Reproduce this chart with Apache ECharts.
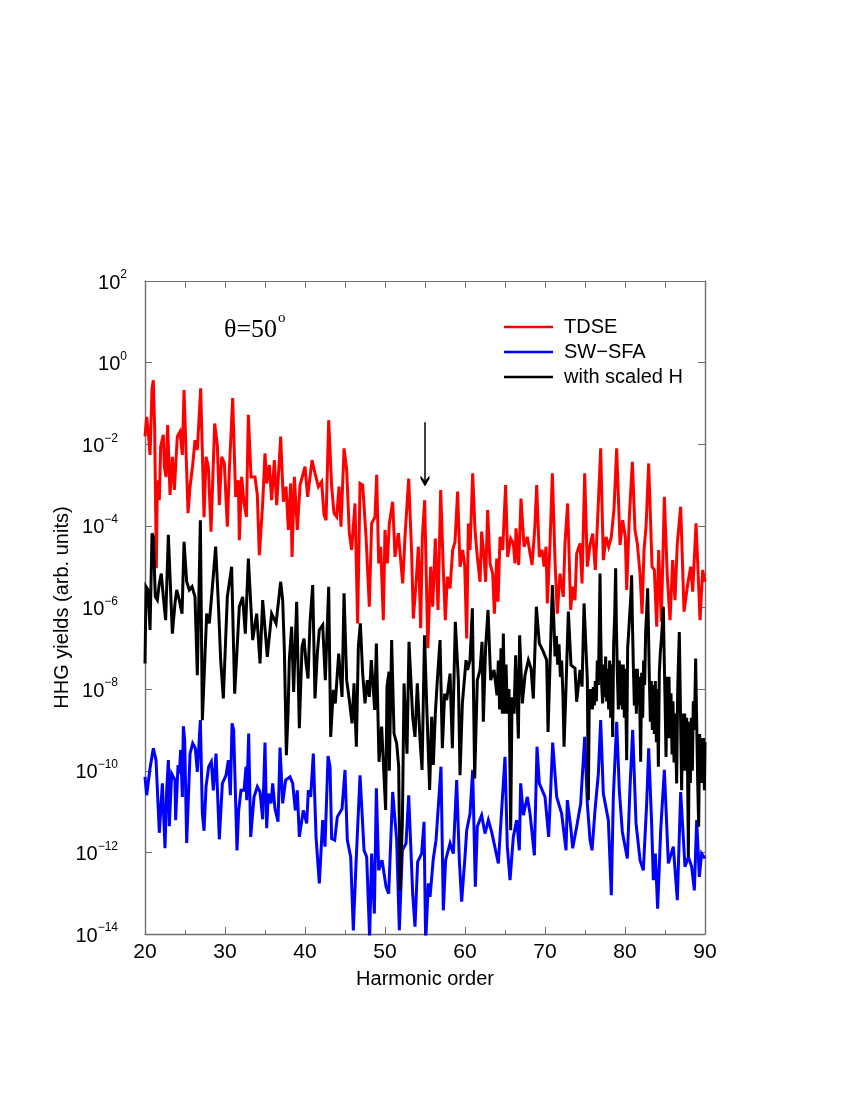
<!DOCTYPE html>
<html>
<head>
<meta charset="utf-8">
<title>HHG yields</title>
<script src="https://cdn.jsdelivr.net/npm/echarts@6/dist/echarts.min.js"></script>
<style>
  html, body { margin: 0; padding: 0; background: #fff; }
  #chart { width: 850px; height: 1100px; }
</style>
</head>
<body>
<div id="chart"></div>
<script>
// harmonic order and log10(yield)
var tdseX = [20,20.21,20.42,20.63,20.88,21.04,21.21,21.42,21.54,21.79,21.96,22.29,22.42,22.63,22.83,23.13,23.42,23.67,24.04,24.38,24.67,24.88,25.08,25.38,25.63,25.96,26.25,26.54,26.96,27.38,27.63,27.92,28.25,28.71,29.04,29.29,29.58,29.92,30.29,30.54,30.96,31.33,31.67,31.79,32.08,32.38,32.67,32.92,33.25,33.75,34.04,34.29,34.71,35,35.21,35.54,35.83,36.17,36.46,36.96,37.29,37.63,37.92,38.21,38.38,38.67,39.04,39.38,40,40.33,40.88,41.25,41.67,42.08,42.38,42.63,42.96,43.33,43.63,43.96,44.25,44.5,44.88,45.21,45.54,45.83,46.25,46.58,46.88,47.21,47.63,48.04,48.33,48.75,48.96,49.21,49.46,49.79,50,50.29,50.54,50.96,51.25,51.67,52.21,52.5,52.96,53.33,53.54,53.88,54.17,54.46,54.67,54.96,55.35,55.71,55.96,56.29,56.63,56.96,57.29,57.54,57.79,58.13,58.46,58.75,59.08,59.38,59.71,59.96,60.21,60.42,60.63,60.96,61.25,61.54,61.88,62.08,62.38,62.58,62.83,63.13,63.46,63.67,63.96,64.13,64.38,64.71,65.08,65.33,65.71,66.04,66.25,66.38,66.71,67,67.38,67.79,68.13,68.38,68.71,68.96,69.29,69.63,69.88,70.13,70.29,70.63,70.92,71.25,71.54,71.88,72.29,72.5,72.83,73.21,73.46,73.75,73.96,74.38,74.63,74.96,75.29,75.63,75.96,76.29,76.63,76.96,77.29,77.63,77.96,78.29,78.63,78.96,79.38,79.71,80.04,80.21,80.54,80.92,81.25,81.54,81.88,82.13,82.38,82.63,82.96,83.38,83.67,83.96,84.21,84.54,84.92,85.29,85.63,85.96,86.25,86.54,86.96,87.38,87.79,88.21,88.46,88.88,89.38,89.71,90];
var tdseLog = [-1.81,-1.33,-1.73,-2.26,-0.63,-0.43,-1.65,-5.04,-2.88,-3.37,-2.06,-1.77,-2.55,-2.8,-1.53,-3.24,-2.31,-3.12,-1.81,-1.69,-2.26,-0.67,-0.67,-3.69,-3.04,-2.51,-1.9,-2.14,-0.63,-3.79,-2.31,-2.55,-4.14,-1.49,-2.02,-3.49,-2.31,-2.47,-4.02,-2.63,-0.87,-3.29,-2.88,-4.35,-2.8,-3.45,-3.78,-1.28,-2.8,-2.8,-3.24,-4.72,-3.45,-2.22,-2.96,-2.51,-3.37,-2.39,-3.49,-1.81,-3.41,-3.04,-4.1,-2.96,-4.76,-2.8,-4.1,-3,-2.55,-3.29,-2.39,-2.71,-3.04,-2.92,-3.73,-3.86,-1.41,-3.04,-3.69,-3.78,-3.04,-4.02,-2.1,-2.63,-4.18,-4.59,-3.45,-6.39,-2.96,-3,-4.27,-5.98,-3.94,-3.78,-2.75,-4.92,-4.51,-6.31,-4.1,-4.92,-3.94,-3.41,-4.76,-4.18,-5.41,-4.27,-2.84,-4.67,-6.27,-5.41,-4.51,-6.51,-4.27,-3.37,-7,-5,-5.98,-4.31,-6.06,-3.12,-5.08,-6.31,-5.25,-5.53,-4.59,-4.39,-3.16,-5,-4.59,-4.96,-6.76,-3.94,-4.59,-2.71,-4.1,-4.76,-5.37,-4.14,-4.76,-5.37,-3.61,-4.92,-5.17,-6.15,-4.8,-5.86,-4.27,-4.59,-3,-4.76,-4.31,-4.43,-4.92,-4.06,-4.96,-3.33,-4.51,-4.27,-4.67,-4.96,-4.1,-3,-4.76,-4.59,-5,-4.51,-5.9,-4.43,-2.71,-4.84,-6.15,-5.17,-5.74,-4.43,-3.45,-6.06,-5.49,-5.82,-4.68,-4.43,-5.41,-2.71,-5,-4.47,-4.19,-5.08,-3.61,-2.1,-4.84,-4.27,-4.51,-4.27,-3.57,-2.1,-4.47,-3.86,-4.27,-5.57,-3.78,-2.43,-4.1,-4.43,-5.17,-6.15,-4.59,-4.02,-2.47,-5,-5.08,-6.47,-4.59,-6.35,-3.29,-5.25,-6.31,-4.84,-5.82,-4.43,-3.53,-6.1,-5.49,-5,-5.61,-3.94,-6.31,-5.08,-5.37];

var swsfaX = [20,20.21,20.63,21.04,21.38,21.79,22.17,22.5,22.71,22.92,23.04,23.33,23.75,23.83,24.13,24.29,24.46,24.67,24.79,24.96,25.21,25.63,25.96,26.29,26.54,26.92,27.17,27.38,27.63,27.96,28.29,28.54,28.88,29.29,29.67,30.13,30.42,30.67,30.88,31.08,31.5,31.71,32,32.38,32.63,32.71,32.96,33.21,33.63,34.04,34.38,34.71,35,35.21,35.42,35.75,35.96,36.25,36.63,36.88,37.21,37.58,38.13,38.46,38.79,39.04,39.29,39.79,40.21,40.42,40.71,41.04,41.38,41.79,42.21,42.5,42.88,43.13,43.33,43.71,44.04,44.63,45,45.29,45.71,46.04,46.38,46.88,47.38,47.71,48.08,48.33,48.67,48.92,49.21,49.63,50.13,50.46,50.96,51.46,51.79,52.17,52.63,52.96,53.46,53.75,54.08,54.58,54.88,55.08,55.42,55.63,56.04,56.38,57,57.29,57.58,58.13,58.54,58.96,59.29,59.58,60,60.21,60.63,60.96,61.29,61.54,62.08,62.5,62.92,63.33,64.17,64.58,65,65.29,65.63,66.04,66.46,66.79,66.96,67.29,67.79,68.13,68.67,69,69.29,70,70.46,70.96,71.46,72.08,72.63,72.79,73.21,73.46,73.96,74.46,74.96,75.29,75.63,75.88,76.25,76.67,76.96,77.29,77.92,78.29,78.54,78.96,79.29,79.67,80.29,80.63,80.96,81.38,81.88,82.29,82.71,82.96,83.33,83.54,83.79,84.08,84.46,84.92,85.42,86.04,86.54,86.96,87.5,87.92,88.33,88.67,88.96,89.29,89.58,90];
var swsfaLog = [-10.15,-10.6,-9.94,-9.45,-9.74,-11.52,-10.31,-11.9,-10.48,-9.74,-11.36,-10.07,-10.23,-11.21,-9.86,-10.07,-9.49,-10.64,-8.91,-9.25,-11.77,-9.58,-9.33,-9.45,-10.03,-8.76,-11.05,-11.47,-10.39,-9.9,-9.78,-10.48,-9.58,-11.68,-10.31,-10.11,-9.74,-10.6,-8.84,-9,-11.95,-10.97,-10.48,-10.48,-9.9,-10.72,-9.09,-11.62,-10.64,-10.39,-10.52,-11.19,-9.31,-11.41,-10.56,-10.8,-10.31,-10.93,-11.25,-9.43,-10.8,-10.23,-10.15,-10.31,-10.97,-10.48,-11.62,-10.97,-11.29,-10.48,-10.64,-9.58,-11.62,-12.76,-11.21,-11.86,-9.64,-9.9,-11.66,-11.7,-11.13,-10.93,-9.98,-11.7,-12.11,-13.91,-12.27,-10.11,-11.95,-12.11,-14.1,-12.03,-13.5,-10.43,-12.44,-12.19,-12.84,-13.01,-10.52,-11.7,-13.91,-11.95,-11.78,-10.6,-13.01,-13.82,-12.23,-12.03,-11.25,-14.2,-12.76,-13.09,-12.15,-11.7,-9.9,-13.42,-12.19,-11.78,-12.03,-10.23,-12.19,-13.21,-12.11,-11.46,-11.05,-9.98,-12.84,-11.37,-11.09,-11.54,-11.21,-11.5,-12.27,-10.97,-9.66,-11.86,-12.68,-11.62,-11.21,-11.95,-10.31,-11.09,-10.64,-11.05,-12.07,-9.41,-10.31,-10.64,-11.62,-9.31,-10.64,-11.05,-11.95,-10.72,-11.37,-11.9,-11.37,-10.8,-9.17,-10.8,-11.7,-11.95,-10.97,-10.07,-8.76,-10.56,-11.21,-13.05,-10.64,-8.8,-10.48,-11.5,-12.15,-10.39,-9,-11.29,-12.19,-12.44,-10.8,-9.45,-11.29,-12.68,-12.03,-13.38,-11.46,-9.98,-12.27,-11.86,-13.17,-10.52,-12.35,-12.11,-12.35,-12.93,-11.21,-12.6,-12.03,-12.15];

// black curve: [harmonic order, log10(yield)]
var scaledPoints = [
  [20,-7.37],[20.13,-5.49],[20.38,-5.57],[20.63,-6.55],[20.88,-4.18],[21.04,-4.27],[21.29,-5.74],[21.54,-5.82],[21.79,-5.41],[22.04,-5.17],[22.29,-5.74],[22.58,-6.31],[22.92,-4.22],[23.13,-5.25],[23.42,-6.64],[23.75,-5.9],[23.96,-5.57],[24.29,-5.82],[24.63,-6.15],[24.88,-4.39],[25.21,-5.37],[25.54,-5.57],[25.88,-5.49],[26.25,-5.74],[26.54,-7.66],[26.92,-3.86],[27.17,-8.76],[27.71,-6.15],[28.04,-6.39],[28.46,-5.41],[28.83,-4.51],[29.17,-5.9],[29.46,-7.29],[29.79,-8.23],[30.29,-5.74],[30.83,-5],[31.21,-8.11],[31.79,-5.98],[32.21,-5.74],[32.54,-6.64],[32.92,-4.8],[33.46,-6.8],[33.96,-6.15],[34.38,-7.37],[34.71,-5.82],[35.29,-7.21],[35.83,-6.15],[36.38,-6.39],[36.96,-5.37],
  [37.21,-5.82],[37.42,-7.04],[37.67,-9.62],[37.88,-8.6],[38.04,-7.29],[38.33,-6.47],[38.58,-8.07],[38.96,-5.86],[39.29,-8.96],[39.63,-6.96],[39.88,-6.76],[40.13,-7.37],[40.38,-7.74],[40.63,-6.35],[40.96,-5.45],[41.25,-8.23],[41.54,-7.13],[41.79,-6.55],[42.21,-6.43],[42.54,-7.78],[42.96,-5.49],[43.21,-9.17],[43.54,-8.02],[43.79,-8.35],[44.21,-7.13],[44.63,-8.19],[44.88,-5.65],[45.21,-7.78],[45.54,-8.27],[45.88,-8.84],[46.13,-7.86],[46.42,-9.41],[46.67,-6.96],[46.92,-6.39],[47.21,-7.62],[47.5,-8.35],[47.79,-7.78],[48.04,-8.19],[48.29,-7.29],[48.71,-8.51],[48.92,-6.88],[49.25,-9.78],[49.58,-8.92],[50.08,-10.96],[50.25,-7.94],[50.5,-7.57],[50.54,-10],[50.83,-6.8],[51.13,-9.09],[51.46,-9.33],[51.71,-9.9],[51.88,-12.93],[52.17,-11.29],[52.38,-7.86],[52.75,-9.58],[53,-6.84],[53.46,-8.68],[53.75,-9.17],[54.04,-7.86],[54.38,-9.25],[54.63,-9.98],[54.94,-6.68],
  [55.25,-8.6],[55.58,-10.47],[55.83,-8.68],[56.04,-9.86],[56.29,-8.6],[56.54,-7.78],[56.88,-6.8],[57.17,-9.45],[57.46,-8.11],[57.71,-8.27],[58.13,-7.62],[58.42,-9.45],[58.79,-6.35],[59.17,-7.78],[59.38,-10.11],[59.67,-8.35],[60.13,-7.29],[60.33,-7.53],[60.63,-7.29],[60.92,-6.02],[61.21,-10.19],[61.54,-7.78],[61.88,-7.53],[62.13,-6.84],[62.29,-8.8],[62.58,-6.96],[62.88,-6.06],[63.21,-7.78],[63.63,-7.53],[64,-8.15],[64.17,-7.3],[64.33,-8.5],[64.5,-7],[64.67,-8.6],[64.79,-6.64],[64.96,-8.6],[65.13,-7.4],[65.3,-8.6],[65.5,-8],[65.71,-11.46],[65.88,-8.2],[66.13,-8.6],[66.33,-7.17],[66.67,-9.21],[66.83,-6.68],[67.17,-8.35],[67.5,-7.66],[67.92,-7.29],[68.25,-7.49],[68.54,-8.23],[68.92,-5.98],[69.29,-6.88],[69.79,-7.08],[70.21,-7.29],[70.38,-9.05],[70.92,-5.45],[71.1,-6.3],[71.25,-7.2],[71.42,-6.7],[71.58,-7.4],[71.75,-6.9],[71.92,-7.7],[72.08,-7.3],[72.25,-8.2],[72.38,-9.41],[72.63,-7.94],[72.92,-6.1],
  [73.25,-7.41],[73.75,-7.49],[73.96,-8.31],[74.38,-7.53],[74.63,-7.94],[74.88,-5.9],[75.29,-7.78],[75.42,-10.72],[75.55,-8],[75.67,-8.45],[75.79,-8],[75.92,-8.5],[76.04,-7.95],[76.17,-8.4],[76.29,-7.8],[76.42,-8.3],[76.54,-7.3],[76.67,-7.9],[76.79,-6.4],[76.88,-5.17],[76.96,-6.5],[77.08,-7.9],[77.21,-8.35],[77.33,-7.4],[77.46,-8.2],[77.58,-7.2],[77.71,-8.3],[77.83,-7.5],[77.96,-8.5],[78.08,-7.3],[78.21,-8.7],[78.33,-7.4],[78.46,-9.17],[78.58,-6.9],[78.71,-6.2],[78.83,-5.04],[78.92,-6.4],[79.04,-7.6],[79.17,-8.5],[79.29,-7.3],[79.42,-8.4],[79.54,-7.4],[79.67,-8.5],[79.79,-7.4],[79.92,-8.7],[80.04,-7.5],[80.21,-9.74],[80.33,-7],[80.46,-6.6],[80.58,-6.2],[80.71,-5.8],[80.83,-5.21],[80.92,-6.3],[81.04,-7.4],[81.17,-8.4],[81.29,-7.5],[81.42,-8.6],[81.54,-7.5],[81.67,-8.4],[81.79,-7.7],[81.96,-9.78],[82.08,-7.6],[82.21,-8.7],[82.33,-7.3],[82.46,-7.9],[82.58,-6.6],[82.71,-6.1],[82.83,-5.53],[82.92,-6.4],[83.04,-7.7],[83.17,-8.8],[83.29,-7.8],[83.42,-9],[83.54,-7.9],[83.67,-9.1],[83.79,-7.8],[83.92,-9.3],[84.04,-8],[84.17,-9.9],[84.29,-7.6],[84.42,-7.1],[84.54,-6.8],[84.67,-6.4],[84.79,-5.98],[84.88,-7],[85,-8.2],[85.13,-9.66],[85.25,-7.7],[85.38,-9.2],[85.5,-7.7],[85.63,-9.2],[85.75,-8.1],[85.88,-9.6],[86,-8.3],[86.13,-9.8],[86.25,-8.6],[86.46,-10.31],[86.58,-8.1],[86.67,-7.4],[86.79,-6.6],[86.88,-7.8],[87.08,-10.48],[87.21,-8.6],[87.33,-10],[87.46,-8.6],[87.58,-10],[87.71,-8.7],[87.83,-10.1],[87.92,-12.11],[88.04,-8.8],[88.17,-10.3],[88.29,-8.7],[88.42,-10],[88.54,-8.3],[88.67,-9],[88.83,-7.25],[88.96,-8.8],[89.08,-10.2],[89.21,-11.37],[89.33,-9.1],[89.46,-10.3],[89.58,-9.2],[89.71,-10.3],[89.83,-9.2],[89.92,-10.48],[90,-9.3]
];

var seriesNames = ['TDSE', 'SW\u2212SFA', 'with scaled H'];
var seriesColors = ['#ff0000', '#0000ff', '#000000'];
var arrowX = 55;
var arrowLog = [-1.46, -2.9];
var yLogMin = -14;
var yLogMax = 2;

function toPoints(xs, logs) {
  return xs.map(function (x, i) { return [x, Math.pow(10, logs[i])]; });
}

var fontName = '"Liberation Sans", Arial, sans-serif';
var axisGrey = '#707070';

function powerLabel(v) {
  var n = Math.round(Math.log10(v));
  // negative powers sit a little further from the axis in the original
  var pad = n < 0 ? '{pad| }' : '';
  return '{base|10}{sup|' + String(n).replace('-', '\u2212') + '}' + pad;
}

function lineSeries(i, points) {
  return {
    name: seriesNames[i],
    type: 'line',
    data: points,
    showSymbol: false,
    symbol: 'none',
    lineStyle: { color: seriesColors[i], width: 3, join: 'miter', miterLimit: 4 },
    itemStyle: { color: seriesColors[i] },
    animation: false,
    silent: true
  };
}

var chart = echarts.init(document.getElementById('chart'), null, { renderer: 'canvas' });

var scaledData = scaledPoints.map(function (p) { return [p[0], Math.pow(10, p[1])]; });
var blackSeries = lineSeries(2, scaledData);
// arrow pointing at the harmonic marked in the original figure
blackSeries.markLine = {
  silent: true,
  animation: false,
  symbol: ['none', 'path://M5,0 L10,7 L10,10 L5,5 L0,10 L0,7 Z'],
  symbolSize: [9, 11],
  label: { show: false },
  lineStyle: { color: '#000', width: 1.5, type: 'solid' },
  data: [[
    { coord: [arrowX, Math.pow(10, arrowLog[0])] },
    { coord: [arrowX, Math.pow(10, arrowLog[1])] }
  ]]
};

chart.setOption({
  backgroundColor: '#fff',
  animation: false,
  grid: { left: 145, right: 145, top: 281, bottom: 166, containLabel: false },
  legend: {
    data: seriesNames,
    orient: 'vertical',
    left: 499,
    top: 312,
    icon: 'rect',
    itemWidth: 49,
    itemHeight: 2.5,
    itemGap: 5,
    selectedMode: false,
    textStyle: { fontFamily: fontName, fontSize: 20, color: '#000', padding: [0, 0, 0, 6] }
  },
  graphic: [
    { type: 'text', left: 224, top: 317, style: { text: '\u03b8=50', font: '26px "Liberation Serif", serif', fill: '#000' } },
    { type: 'text', left: 278, top: 311, style: { text: 'o', font: '15px "Liberation Serif", serif', fill: '#000' } }
  ],
  xAxis: [
    {
      type: 'value', min: 20, max: 90, interval: 10,
      name: 'Harmonic order', nameLocation: 'middle', nameGap: 35,
      nameTextStyle: { fontFamily: fontName, fontSize: 20, color: '#000' },
      axisLine: { onZero: false, lineStyle: { color: axisGrey, width: 1.4 } },
      axisTick: { inside: true, length: 7, lineStyle: { color: axisGrey } },
      minorTick: { show: true, splitNumber: 2, length: 4, lineStyle: { color: axisGrey } },
      axisLabel: { fontFamily: fontName, fontSize: 21, color: '#000', margin: 8 },
      splitLine: { show: false }
    },
    {
      type: 'value', min: 20, max: 90, interval: 10, position: 'top',
      axisLine: { onZero: false, lineStyle: { color: axisGrey, width: 1 } },
      axisTick: { inside: true, length: 7, lineStyle: { color: axisGrey } },
      minorTick: { show: true, splitNumber: 2, length: 7, lineStyle: { color: axisGrey } },
      axisLabel: { show: false },
      splitLine: { show: false }
    }
  ],
  yAxis: [
    {
      type: 'log', logBase: 10, min: Math.pow(10, yLogMin), max: Math.pow(10, yLogMax), interval: 2,
      name: 'HHG yields (arb. units)', nameLocation: 'middle', nameGap: 73, nameRotate: 90,
      nameMoveOverlap: false,
      nameTextStyle: { fontFamily: fontName, fontSize: 20, color: '#000' },
      axisLine: { onZero: false, lineStyle: { color: axisGrey, width: 1.4 } },
      axisTick: { inside: true, length: 7, lineStyle: { color: axisGrey } },
      minorTick: { show: false },
      axisLabel: {
        margin: 18,
        formatter: powerLabel,
        rich: {
          base: { fontFamily: fontName, fontSize: 20, color: '#000', verticalAlign: 'bottom', lineHeight: 24 },
          sup: { fontFamily: fontName, fontSize: 12, color: '#000', verticalAlign: 'top', lineHeight: 14 },
          pad: { width: 9, fontSize: 12 }
        }
      },
      splitLine: { show: false }
    },
    {
      type: 'log', logBase: 10, min: Math.pow(10, yLogMin), max: Math.pow(10, yLogMax), interval: 2, position: 'right',
      axisLine: { onZero: false, lineStyle: { color: axisGrey, width: 1.4 } },
      axisTick: { inside: true, length: 7, lineStyle: { color: axisGrey } },
      axisLabel: { show: false },
      splitLine: { show: false }
    }
  ],
  series: [
    lineSeries(0, toPoints(tdseX, tdseLog)),
    lineSeries(1, toPoints(swsfaX, swsfaLog)),
    blackSeries
  ]
});
</script>
</body>
</html>
